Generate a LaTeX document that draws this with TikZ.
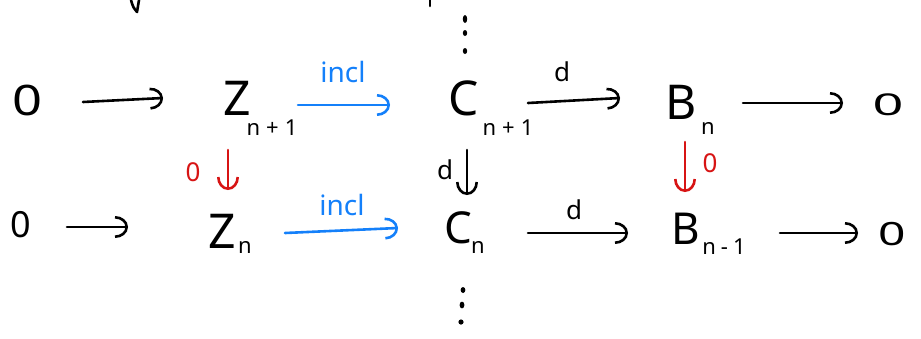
\documentclass[tikz,border=0pt]{standalone}
\usepackage{fontspec}
\setmainfont{Noto Sans}
\usetikzlibrary{arrows.meta}
\definecolor{inkblue}{RGB}{20,128,250}
\definecolor{inkred}{RGB}{215,20,20}
\tikzset{
  ink/.style={line width=2.6pt, line cap=round, line join=round},
  arr/.style={ink, -{Arc Barb[length=13pt,width=22pt]}},
  obj/.style={font=\fontsize{48}{48}\selectfont, inner sep=0pt},
  zero/.style={font=\fontsize{42}{42}\selectfont, inner sep=0pt},
  subs/.style={font=\fontsize{22}{22}\selectfont, inner sep=0pt},
  lab/.style={font=\fontsize{28}{28}\selectfont, inner sep=0pt},
  dlab/.style={font=\fontsize{26}{26}\selectfont, inner sep=0pt},
  dot/.style={fill=black},
}
\begin{document}
\begin{tikzpicture}[x=1pt,y=-1pt]
\useasboundingbox (0,0) rectangle (921,338);
% fragments of strokes cut at the top edge
\draw[ink] (131,0) .. controls (133,7) .. (137,12) -- (139,0);
\draw[ink] (430,0) -- (430,6);
% vertical dots
\fill[dot] (465,19) ellipse (2.2pt and 4pt);
\fill[dot] (465,33) ellipse (2.2pt and 3pt);
\fill[dot] (465,51) ellipse (2.2pt and 3pt);
\fill[dot] (463,290) ellipse (2.4pt and 3pt);
\fill[dot] (462,305) ellipse (2.4pt and 3.4pt);
\fill[dot] (461,322) ellipse (2.6pt and 2.6pt);
% top row
\node[zero] (O1) at (28,100) {\scalebox{1.25}[1]{0}};
\node[obj] (Z1) at (237,98) {Z};
\node[subs] (sZ1) at (272,128) {n\hspace{6pt}+\hspace{6pt}1};
\node[obj] (C1) at (464,98) {C};
\node[subs] (sC1) at (508,128) {n\hspace{6pt}+\hspace{6pt}1};
\node[obj] (B1) at (681,102) {B};
\node[subs] (sB1) at (708,128) {n};
\node[zero, font=\fontsize{30}{30}\selectfont] (O2) at (888,105) {\scalebox{1.8}[1]{0}};
% bottom row
\node[zero, font=\fontsize{36}{36}\selectfont] (O3) at (21,225) {0};
\node[obj] (Z2) at (222,231) {Z};
\node[subs] (sZ2) at (245,247) {n};
\node[obj, font=\fontsize{44}{44}\selectfont] (C2) at (458,228) {C};
\node[subs] (sC2) at (478,247) {n};
\node[obj, font=\fontsize{44}{44}\selectfont] (B2) at (686,229) {B};
\node[subs] (sB2) at (724,247) {n\hspace{5pt}-\hspace{5pt}1};
\node[zero, font=\fontsize{32}{32}\selectfont] (O4) at (892,234) {\scalebox{1.5}[1]{0}};
% labels
\node[lab, text=inkblue] (i1) at (343,72) {incl};
\node[lab, text=inkblue] (i2) at (342,205) {incl};
\node[dlab] (d1) at (562,72) {d};
\node[dlab] (d2) at (574,210) {d};
\node[dlab] (d3) at (445,170) {d};
\node[dlab, text=inkred] (r1) at (193,172) {0};
\node[dlab, text=inkred] (r2) at (710,163) {0};
% horizontal arrows, top
\draw[arr] ([xshift=55pt,yshift=-2pt]O1.center) -- ([xshift=-74pt]Z1.center);
\draw[arr, inkblue] ([xshift=61pt,yshift=-7pt]Z1.center) -- ([xshift=-74pt,yshift=-7pt]C1.center);
\draw[arr] ([xshift=64pt,yshift=-5pt]C1.center) -- ([xshift=-61pt,yshift=4pt]B1.center);
\draw[arr] ([xshift=62pt,yshift=-1pt]B1.center) -- ([xshift=-45pt,yshift=2pt]O2.center);
% horizontal arrows, bottom
\draw[arr] ([xshift=46pt,yshift=-2pt]O3.center) -- ([xshift=-94pt,yshift=4pt]Z2.center);
\draw[arr, inkblue] ([xshift=63pt,yshift=-2pt]Z2.center) -- ([xshift=-60pt]C2.center);
\draw[arr] ([xshift=70pt,yshift=-5pt]C2.center) -- ([xshift=-58pt,yshift=-4pt]B2.center);
\draw[arr] ([xshift=94pt,yshift=-4pt]B2.center) -- ([xshift=-34pt,yshift=1pt]O4.center);
% vertical arrows
\draw[arr, inkred] ([xshift=-9pt,yshift=-52pt]Z1.center) -- ([xshift=6pt,yshift=41pt]Z2.center);
\draw[arr] ([xshift=3pt,yshift=-52pt]C1.center) -- ([xshift=9pt,yshift=33pt]C2.center);
\draw[arr, inkred] ([xshift=4pt,yshift=-40pt]B1.center) -- ([xshift=-1pt,yshift=37pt]B2.center);
\end{tikzpicture}
\end{document}
